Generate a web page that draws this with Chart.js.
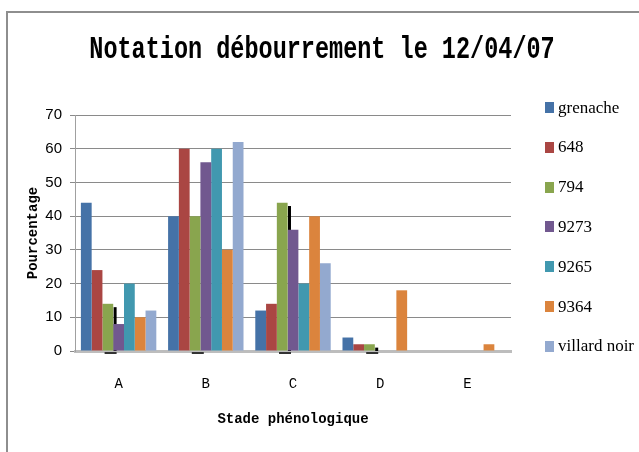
<!DOCTYPE html>
<html>
<head>
<meta charset="utf-8">
<script src="https://cdn.jsdelivr.net/npm/chart.js@4/dist/chart.umd.min.js"></script>
<style>
  html, body { margin: 0; padding: 0; background: #fff; overflow: hidden; }
  #wrap { position: relative; width: 639px; height: 452px; }
  #frame { position: absolute; left: 6px; top: 11px; width: 700px; height: 500px;
           border-left: 2px solid #8e8e8e; border-top: 2px solid #8e8e8e; pointer-events: none; }
  canvas { position: absolute; left: 0; top: 0; }
  .lg { position: absolute; left: 545px; height: 20px; display: flex; align-items: center;
        font-family: "Liberation Serif", serif; font-size: 17px; color: #000; white-space: nowrap; }
  .lg i { display: inline-block; width: 9px; height: 11px; margin-right: 4px; }
</style>
</head>
<body>
<div id="wrap">
  <canvas id="c" width="639" height="452"></canvas>
  <div id="frame"></div>
  <div id="legend"></div>
</div>
<script>
// ---- data ----
const TITLE = "Notation débourrement le 12/04/07";
const X_TITLE = "Stade phénologique";
const Y_TITLE = "Pourcentage";
const categories = ["A", "B", "C", "D", "E"];
const seriesNames = ["grenache", "648", "794", "9273", "9265", "9364", "villard noir"];
const grenache   = [44, 40, 12, 4, 0];
const s648       = [24, 60, 14, 2, 0];
const s794       = [14, 40, 44, 2, 0];
const s9273      = [8, 56, 36, 0, 0];
const s9265      = [20, 60, 20, 0, 0];
const s9364      = [10, 30, 40, 18, 2];
const villardNoir = [12, 62, 26, 0, 0];
const errorTop   = [13, 0, 43, 1, null];   // black error marks
const yTicks     = [0, 10, 20, 30, 40, 50, 60, 70];

const colors = ["#4572A7", "#AA4643", "#89A54E", "#71588F", "#4198AF", "#DB843D", "#93A9CF"];
const values = [grenache, s648, s794, s9273, s9265, s9364, villardNoir];

// HTML legend built from the series names / colours
const legendEl = document.getElementById('legend');
seriesNames.forEach((n, i) => {
  const d = document.createElement('div');
  d.className = 'lg';
  d.style.top = (97.5 + i * 39.8) + 'px';
  const sw = document.createElement('i');
  sw.style.background = colors[i];
  d.appendChild(sw);
  d.appendChild(document.createTextNode(n));
  legendEl.appendChild(d);
});

const titlePlugin = {
  id: 'stretchedTitle',
  afterDraw(chart) {
    const ctx = chart.ctx;
    ctx.save();
    ctx.font = 'bold 23.5px "Liberation Mono"';
    ctx.fillStyle = '#000';
    ctx.textAlign = 'center';
    ctx.textBaseline = 'alphabetic';
    ctx.translate(322, 58);
    ctx.scale(1, 1.35);
    ctx.fillText(TITLE, 0, 0);
    ctx.restore();
  }
};

const errPlugin = {
  id: 'errMarks',
  beforeDatasetsDraw(chart) {
    const ctx = chart.ctx, x = chart.scales.x, y = chart.scales.y;
    ctx.save();
    errorTop.forEach((v, i) => {
      if (v === null) return;
      const cx = x.getPixelForValue(i);
      const y0 = y.getPixelForValue(0);
      ctx.fillStyle = '#000';
      if (v > 0) {
        const yt = y.getPixelForValue(v);
        ctx.fillRect(cx - 5, yt, 3, y0 - yt);
      }
      ctx.fillStyle = '#333';
      ctx.fillRect(cx - 14, y0 + 1, 12, 2);
    });
    ctx.restore();
  }
};

new Chart(document.getElementById('c'), {
  type: 'bar',
  data: {
    labels: categories,
    datasets: seriesNames.map((n, i) => ({
      label: n,
      data: values[i],
      backgroundColor: colors[i],
      borderWidth: 0,
      categoryPercentage: 0.865,
      barPercentage: 1.0
    }))
  },
  options: {
    responsive: false,
    animation: false,
    devicePixelRatio: 1,
    layout: { padding: { top: 3, left: 0, right: 128, bottom: 0 } },
    plugins: {
      title: { display: false },
      tooltip: { enabled: false },
      legend: { display: false }
    },
    scales: {
      x: {
        position: 'bottom',
        grid: { display: false, drawTicks: false },
        border: { display: true, color: '#bdbdbd', width: 3 },
        ticks: { color: '#000', padding: 25, font: { family: '"Liberation Mono"', size: 14 } },
        title: { display: true, text: X_TITLE, color: '#000',
                 font: { family: '"Liberation Mono"', size: 14, weight: 'bold' },
                 padding: { top: 0, bottom: 24.6 } },
        afterFit(s) { s.height = 101; }
      },
      xTop: {
        type: 'category',
        labels: categories,
        position: 'top',
        display: true,
        grid: { display: false, drawTicks: false },
        border: { display: false },
        ticks: { display: false },
        afterFit(s) { s.height = 112; }
      },
      y: {
        min: 0, max: 70,
        afterBuildTicks(s) { s.ticks = yTicks.map(v => ({ value: v })); },
        grid: { color: '#8a8a8a', tickLength: 5, lineWidth: 1 },
        border: { display: true, color: '#a0a0a0', width: 1 },
        ticks: { color: '#000', padding: 8, font: { family: '"Liberation Sans"', size: 15 } },
        title: { display: true, text: Y_TITLE, color: '#000',
                 font: { family: '"Liberation Mono"', size: 14, weight: 'bold' },
                 padding: { top: 24.6, bottom: 0 } },
        afterFit(s) { s.width = 75; }
      }
    }
  },
  plugins: [titlePlugin, errPlugin]
});
</script>
</body>
</html>
